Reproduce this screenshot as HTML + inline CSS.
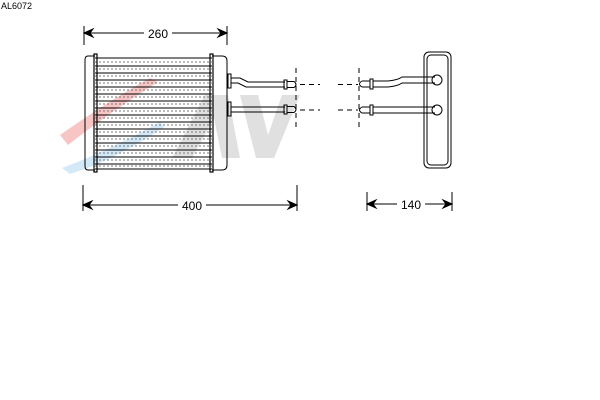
<!DOCTYPE html>
<html><head><style>body{margin:0;background:#fff}svg{display:block}</style></head><body>
<svg width="600" height="400" xmlns="http://www.w3.org/2000/svg" font-family="Liberation Sans, sans-serif">
<rect width="600" height="400" fill="#fff"/>
<text x="1" y="9" font-size="9" fill="#000">AL6072</text>
<!-- logo watermark -->
<g opacity="0.45">
<path d="M60 135 Q110 100 150 78 L158 82 Q110 112 68 145 Z" fill="#f08080"/>
<path d="M62 168 Q110 150 160 122 L164 127 Q115 160 70 174 Z" fill="#9fd0f0"/>
<path d="M172 158 L205 95 L228 95 L240 158 L222 158 L214 118 L192 158 Z" fill="#bbb"/>
<path d="M240 95 L258 95 L268 135 L282 95 L300 95 L274 158 L256 158 Z" fill="#bbb"/>
</g>
<g stroke="#000" fill="none" stroke-width="1">
<g>
<line x1="95" y1="58" x2="212" y2="58"/><line x1="95" y1="66" x2="212" y2="66"/><line x1="95" y1="73" x2="212" y2="73"/><line x1="95" y1="80" x2="212" y2="80"/><line x1="95" y1="87" x2="212" y2="87"/><line x1="95" y1="94" x2="212" y2="94"/><line x1="95" y1="101" x2="212" y2="101"/><line x1="95" y1="108" x2="212" y2="108"/><line x1="95" y1="115" x2="212" y2="115"/><line x1="95" y1="122" x2="212" y2="122"/><line x1="95" y1="129" x2="212" y2="129"/><line x1="95" y1="136" x2="212" y2="136"/><line x1="95" y1="143" x2="212" y2="143"/><line x1="95" y1="150" x2="212" y2="150"/><line x1="95" y1="157" x2="212" y2="157"/><line x1="95" y1="164" x2="212" y2="164"/><line x1="95" y1="169" x2="212" y2="169"/>
</g>
<g stroke="#777" stroke-dasharray="2 2">
<line x1="95" y1="62" x2="212" y2="62"/><line x1="95" y1="69" x2="212" y2="69"/><line x1="95" y1="76" x2="212" y2="76"/><line x1="95" y1="83" x2="212" y2="83"/><line x1="95" y1="90" x2="212" y2="90"/><line x1="95" y1="97" x2="212" y2="97"/><line x1="95" y1="104" x2="212" y2="104"/><line x1="95" y1="111" x2="212" y2="111"/><line x1="95" y1="118" x2="212" y2="118"/><line x1="95" y1="125" x2="212" y2="125"/><line x1="95" y1="132" x2="212" y2="132"/><line x1="95" y1="139" x2="212" y2="139"/><line x1="95" y1="146" x2="212" y2="146"/><line x1="95" y1="153" x2="212" y2="153"/><line x1="95" y1="160" x2="212" y2="160"/><line x1="95" y1="166" x2="212" y2="166"/>
</g>
<path d="M95 56 L88 56 Q85 56 85 60 L85 166 Q85 170 88 170 L95 170"/>
<path d="M212 56 L222 56 Q227 56 227 61 L227 165 Q227 170 222 170 L212 170"/>
<rect x="94" y="54" width="3" height="118" stroke-width="1.2"/>
<rect x="210" y="54" width="3" height="118" stroke-width="1.2"/>
<!-- left pipes -->
<rect x="228" y="74" width="3" height="14"/><rect x="228" y="102" width="3" height="14"/>
<path d="M231 78 L240 78 L248 82 L285 82 M231 83 L238 83 L246 87 L285 87"/>
<path d="M231 107 L285 107 M231 112 L285 112"/>
<rect x="284" y="80" width="3" height="9"/><rect x="284" y="105" width="3" height="9"/>
<path d="M287 81.5 L294 81.5 Q298 84.5 294 87.5 L287 87.5 M287 106.5 L294 106.5 Q298 109.5 294 112.5 L287 112.5"/>
<!-- right view pipes -->
<path d="M362 81 Q357 84 362 87 M362 107 Q357 110 362 113"/>
<path d="M362 81 L370 81 M362 87 L370 87 M362 107 L370 107 M362 113 L370 113"/>
<rect x="370" y="79" width="3" height="10"/><rect x="370" y="105" width="3" height="10"/>
<path d="M373 81 L388 81 Q398 80 402 77 L435 77 M373 87 L388 87 Q398 86 402 83 L435 83"/>
<path d="M373 107 L435 107 M373 113 L435 113"/>
<rect x="424" y="52" width="27" height="116" rx="5"/>
<rect x="427" y="55" width="21" height="110" rx="4"/>
<circle cx="437" cy="80" r="5"/><circle cx="437" cy="110" r="5"/>
</g>
<g stroke="#000" stroke-dasharray="5 4" fill="none">
<line x1="296" y1="68" x2="296" y2="127"/><line x1="359" y1="68" x2="359" y2="127"/>
<line x1="300" y1="84.5" x2="320" y2="84.5"/><line x1="300" y1="110" x2="320" y2="110"/>
<line x1="338" y1="84.5" x2="358" y2="84.5"/><line x1="338" y1="110" x2="358" y2="110"/>
</g>
<g stroke="#000" fill="#000">
<line x1="84" y1="26" x2="84" y2="45"/><line x1="227" y1="26" x2="227" y2="45"/>
<line x1="86" y1="33" x2="144" y2="33"/><line x1="172" y1="33" x2="225" y2="33"/>
<path d="M84 33 L93 29 L90 33 L93 37 Z M227 33 L218 29 L221 33 L218 37 Z"/>
<line x1="83" y1="185" x2="83" y2="211"/><line x1="297" y1="185" x2="297" y2="211"/>
<line x1="85" y1="205" x2="178" y2="205"/><line x1="206" y1="205" x2="295" y2="205"/>
<path d="M83 205 L92 201 L89 205 L92 209 Z M297 205 L288 201 L291 205 L288 209 Z"/>
<line x1="367" y1="192" x2="367" y2="211"/><line x1="452" y1="192" x2="452" y2="211"/>
<line x1="369" y1="204" x2="397" y2="204"/><line x1="425" y1="204" x2="450" y2="204"/>
<path d="M367 204 L376 200 L373 204 L376 208 Z M452 204 L443 200 L446 204 L443 208 Z"/>
</g>
<g font-size="12" fill="#000" text-anchor="middle">
<text x="158" y="38">260</text><text x="192" y="210">400</text><text x="411" y="209">140</text>
</g>
</svg>
</body></html>
